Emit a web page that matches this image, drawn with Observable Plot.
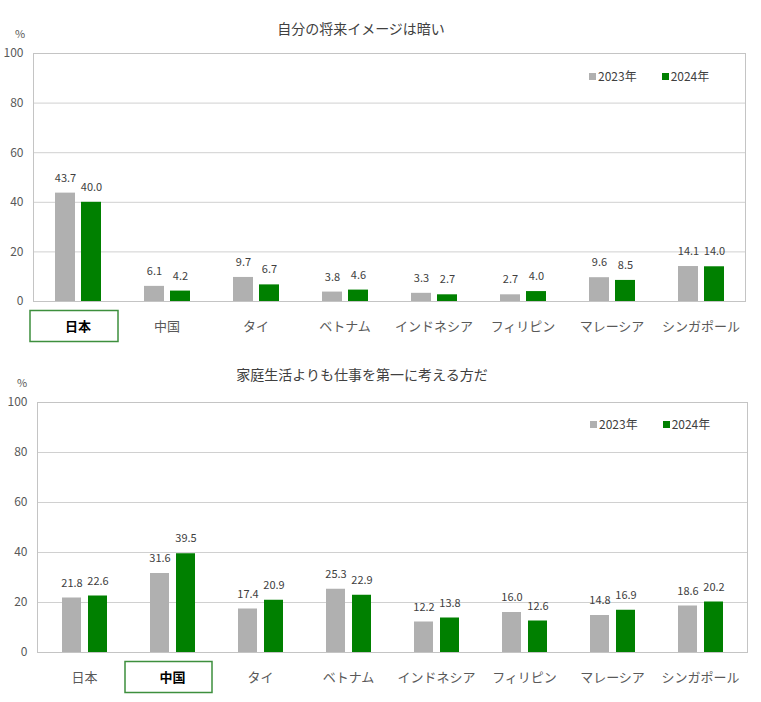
<!DOCTYPE html>
<html>
<head>
<meta charset="utf-8">
<script src="https://cdn.jsdelivr.net/npm/d3@7"></script>
<script src="https://cdn.jsdelivr.net/npm/@observablehq/plot@0.6"></script>
<style>
  body { margin: 0; background: #fff; font-family: "Noto Sans CJK JP", sans-serif; }
  #root { position: relative; width: 761px; height: 702px; overflow: hidden; }
  .panel { position: absolute; left: 0; width: 761px; height: 351px; }
  .title { position: absolute; font-size: 14px; line-height: 20px; color: #404040; white-space: nowrap; transform: translateX(-50%); }
  .unit { position: absolute; font-size: 11px; line-height: 14px; color: #595959; }
  .legend { position: absolute; display: flex; align-items: center; font-size: 12px; line-height: 16px; color: #404040; white-space: nowrap; }
  .legend .item { display: flex; align-items: center; }
  .legend .sw { display: inline-block; width: 7px; height: 7px; margin-right: 2px; }
</style>
</head>
<body>
<div id="root"></div>
<script>
const categories = ["日本", "中国", "タイ", "ベトナム", "インドネシア", "フィリピン", "マレーシア", "シンガポール"];
const years = ["2023年", "2024年"];
const yearColors = ["#b0b0b0", "#008000"];
const yTicks = [0, 20, 40, 60, 80, 100];

const titleTop = "自分の将来イメージは暗い";
const darkFuture2023 = [43.7, 6.1, 9.7, 3.8, 3.3, 2.7, 9.6, 14.1];
const darkFuture2024 = [40.0, 4.2, 6.7, 4.6, 2.7, 4.0, 8.5, 14.0];
const highlightTop = "日本";

const titleBottom = "家庭生活よりも仕事を第一に考える方だ";
const workFirst2023 = [21.8, 31.6, 17.4, 25.3, 12.2, 16.0, 14.8, 18.6];
const workFirst2024 = [22.6, 39.5, 20.9, 22.9, 13.8, 12.6, 16.9, 20.2];
const highlightBottom = "中国";

const root = document.getElementById("root");

function makePanel({top, title, titleX, titleY, unitX, unitY, legendX, legendY, s23, s24, highlight, marginLeft, marginRight, marginTop}) {
  const panel = document.createElement("div");
  panel.className = "panel";
  panel.style.top = top + "px";
  const d23 = categories.map((c, i) => ({c, v: s23[i]}));
  const d24 = categories.map((c, i) => ({c, v: s24[i]}));
  const gIn = [22, 47], gnIn = [48, 21];
  const chart = Plot.plot({
    width: 761,
    height: 351,
    marginTop, marginBottom: 50, marginLeft, marginRight,
    style: {fontFamily: '"Noto Sans CJK JP", sans-serif', fontSize: "12px", color: "#595959", background: "transparent"},
    x: {type: "band", domain: categories, padding: 0, axis: null},
    y: {domain: [0, 100], axis: null},
    marks: [
      Plot.ruleY(yTicks.slice(1, -1), {stroke: "#d0d0d0", strokeWidth: 1}),
      Plot.axisY({ticks: yTicks, tickSize: 0, tickPadding: 10, fontSize: 12, fill: "#595959", label: null}),
      Plot.barY(d23, {x: "c", y: "v", fill: yearColors[0], insetLeft: gIn[0], insetRight: gIn[1]}),
      Plot.barY(d24, {x: "c", y: "v", fill: yearColors[1], insetLeft: gnIn[0], insetRight: gnIn[1]}),
      Plot.text(d23, {x: "c", y: "v", text: d => d.v.toFixed(1), dx: (gIn[0] - gIn[1]) / 2, dy: -15, fontSize: 11, fill: "#404040"}),
      Plot.text(d24, {x: "c", y: "v", text: d => d.v.toFixed(1), dx: (gnIn[0] - gnIn[1]) / 2, dy: -15, fontSize: 11, fill: "#404040"}),
      Plot.frame({stroke: "#c4c4c4", strokeWidth: 1}),
      Plot.text(categories.filter(c => c !== highlight), {x: d => d, frameAnchor: "bottom", dy: 25.5, lineAnchor: "middle", fontSize: 13, fill: "#595959"}),
      Plot.text([highlight], {x: d => d, frameAnchor: "bottom", dy: 25.5, lineAnchor: "middle", fontSize: 13, fill: "#000000", fontWeight: "bold"}),
      Plot.barY([highlight], {x: d => d, y1: 0, y2: 0, insetTop: 9.5, insetBottom: -40.5, insetLeft: -3, insetRight: 4, fill: "none", stroke: "#3d8f3d", strokeWidth: 1.5})
    ]
  });
  panel.appendChild(chart);

  const t = document.createElement("div");
  t.className = "title";
  t.textContent = title;
  t.style.left = titleX + "px";
  t.style.top = (titleY - 10) + "px";
  panel.appendChild(t);

  const u = document.createElement("div");
  u.className = "unit";
  u.textContent = "%";
  u.style.left = unitX + "px";
  u.style.top = (unitY - 7) + "px";
  panel.appendChild(u);

  const lg = document.createElement("div");
  lg.className = "legend";
  lg.style.left = legendX + "px";
  lg.style.top = (legendY - 8) + "px";
  years.forEach((y, i) => {
    const it = document.createElement("span");
    it.className = "item";
    if (i > 0) it.style.marginLeft = "25px";
    const sw = document.createElement("span");
    sw.className = "sw";
    sw.style.background = yearColors[i];
    it.appendChild(sw);
    it.appendChild(document.createTextNode(y));
    lg.appendChild(it);
  });
  panel.appendChild(lg);

  root.appendChild(panel);
}

makePanel({top: 0, title: titleTop, titleX: 361, titleY: 28, unitX: 15, unitY: 33, legendX: 589, legendY: 76,
  s23: darkFuture2023, s24: darkFuture2024, highlight: highlightTop, marginLeft: 33, marginRight: 16, marginTop: 53});
makePanel({top: 351, title: titleBottom, titleX: 362, titleY: 23, unitX: 17, unitY: 31, legendX: 590, legendY: 73,
  s23: workFirst2023, s24: workFirst2024, highlight: highlightBottom, marginLeft: 37, marginRight: 14, marginTop: 51});
</script>
</body>
</html>
